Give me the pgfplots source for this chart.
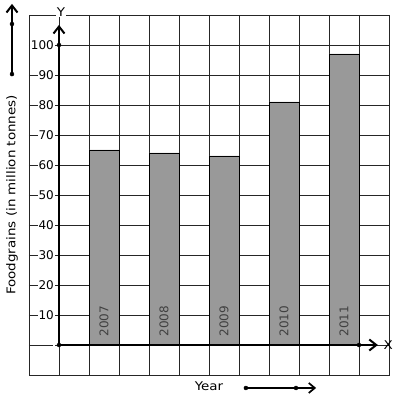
\documentclass[border=0pt]{standalone}
\usepackage{pgfplots}
\pgfplotsset{compat=1.18}
\usepackage{fontspec}
\setmainfont{DejaVu Sans}
\newfontfamily\widefont{DejaVu Sans}[FakeStretch=1.12]
\usetikzlibrary{arrows.meta}
\definecolor{barfill}{HTML}{999999}
\begin{document}
\begin{tikzpicture}[font=\fontsize{12}{14}\selectfont]
\useasboundingbox (-29pt,-26pt) rectangle (368pt,375pt);
\begin{axis}[
  at={(0pt,0pt)}, anchor=south west,
  scale only axis, width=360pt, height=360pt,
  xmin=-1, xmax=11, ymin=-10, ymax=110,
  xtick={0,...,10}, xticklabels={},
  ytick={0,10,...,100}, yticklabels={,10,20,30,40,50,60,70,80,90,100},
  major tick length=0pt,
  grid=major,
  grid style={line width=0.8pt, black!85},
  axis line style={line width=0.8pt, black!85},
  yticklabel style={fill=white, inner sep=1pt, xshift=26pt},
  clip=false,
  ylabel={\widefont Foodgrains (in million tonnes)},
  every axis y label/.style={at={(axis description cs:-0.047,0.5)}, rotate=90, anchor=center},
]
\addplot[ybar, bar width=1, fill=barfill, draw=black, line width=0.8pt]
  coordinates {(1.5,65)(3.5,64)(5.5,63)(7.5,81)(9.5,97)};
% axes
\addplot[line width=2pt, -{Straight Barb[length=7pt,width=11pt]}] coordinates {(0,0)(0,106.7)};
\addplot[line width=2pt, -{Straight Barb[length=7pt,width=11pt]}] coordinates {(0,0)(10.63,0)};
\addplot[only marks, mark=*, mark size=2pt, black] coordinates {(0,0)(0,100)(10,0)};
% decorative arrows
\addplot[line width=2pt, -{Straight Barb[length=7pt,width=11pt]}] coordinates {(-1.567,90.3)(-1.567,113.7)};
\addplot[only marks, mark=*, mark size=2pt, black] coordinates {(-1.567,90.3)(-1.567,107)};
\addplot[line width=1.7pt, -{Straight Barb[length=6pt,width=10pt]}] coordinates {(6.23,-14.33)(8.57,-14.33)};
\addplot[only marks, mark=*, mark size=2pt, black] coordinates {(6.23,-14.33)(7.9,-14.33)};
% labels
\node[fill=white, inner sep=1pt] at (axis cs:0.07,111) {\widefont Y};
\node at (axis cs:10.97,0) {\widefont X};
\node at (axis cs:5.0,-13.8) {\widefont Year};
\node[rotate=90, text=black!75] at (axis cs:1.5,8) {2007};
\node[rotate=90, text=black!75] at (axis cs:3.5,8) {2008};
\node[rotate=90, text=black!75] at (axis cs:5.5,8) {2009};
\node[rotate=90, text=black!75] at (axis cs:7.5,8) {2010};
\node[rotate=90, text=black!75] at (axis cs:9.5,8) {2011};
\end{axis}
\end{tikzpicture}
\end{document}
